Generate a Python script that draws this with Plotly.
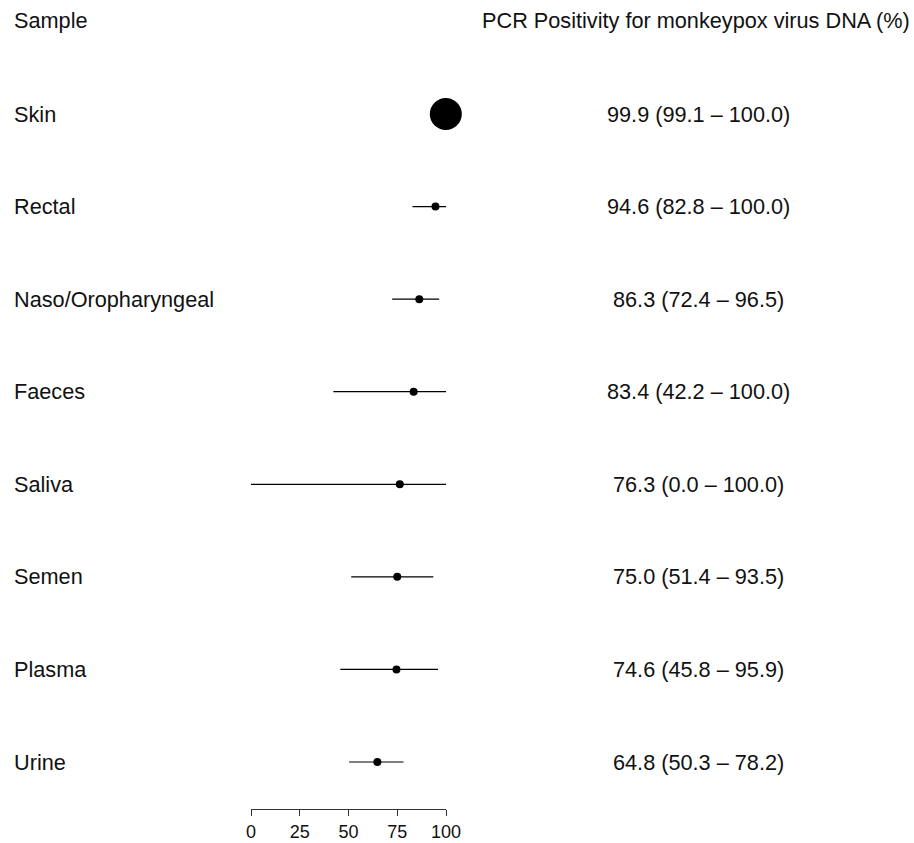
import plotly.graph_objects as go

samples = ["Skin", "Rectal", "Naso/Oropharyngeal", "Faeces", "Saliva", "Semen", "Plasma", "Urine"]
estimate = [99.9, 94.6, 86.3, 83.4, 76.3, 75.0, 74.6, 64.8]
lower = [99.1, 82.8, 72.4, 42.2, 0.0, 51.4, 45.8, 50.3]
upper = [100.0, 100.0, 96.5, 100.0, 100.0, 93.5, 95.9, 78.2]
marker_sizes = [32, 8, 8, 8, 8, 8, 8, 8]
tick_vals = [0, 25, 50, 75, 100]

W, H = 914, 843
n = len(samples)
ypos = [n - i for i in range(n)]  # Skin at top
row_px = (762 - 114) / 7.0
axis_px = 809
y_bottom = 1 - (axis_px - 762) / row_px
y_top = n + 114 / row_px

fig = go.Figure()
fig.add_trace(go.Scatter(
    x=estimate, y=ypos, mode="markers",
    marker=dict(color="#000000", size=marker_sizes, opacity=1,
                line=dict(width=0, color="#000000")),
    error_x=dict(type="data", symmetric=False,
                 array=[u - e for u, e in zip(upper, estimate)],
                 arrayminus=[e - l for e, l in zip(estimate, lower)],
                 color="#000000", thickness=1.2, width=0),
    cliponaxis=False,
    showlegend=False, hoverinfo="skip",
))

font = dict(family="Liberation Sans, Arial, sans-serif", size=21.7, color="#111111")
tick_font = dict(family="Liberation Sans, Arial, sans-serif", size=18, color="#111111")
ann = []
head_y = n + (114 - 20) / row_px
ann.append(dict(x=13 / W, xref="paper", y=head_y, yref="y",
                text="Sample", showarrow=False, xanchor="left", yanchor="middle",
                font=font, borderpad=0))
ann.append(dict(x=695.5 / W, xref="paper", y=head_y, yref="y",
                text="PCR Positivity for monkeypox virus DNA (%)", showarrow=False,
                xanchor="center", yanchor="middle", font=font, borderpad=0))
for s, e, l, u, y in zip(samples, estimate, lower, upper, ypos):
    ann.append(dict(x=13 / W, xref="paper", y=y, yref="y", text=s, showarrow=False,
                    xanchor="left", yanchor="middle", font=font, borderpad=0))
    ann.append(dict(x=698 / W, xref="paper", y=y, yref="y",
                    text=f"{e:.1f} ({l:.1f} \u2013 {u:.1f})", showarrow=False,
                    xanchor="center", yanchor="middle", font=font, borderpad=0))

fig.update_layout(
    width=W, height=H,
    margin=dict(l=0, r=0, t=0, b=H - axis_px, pad=0, autoexpand=False),
    paper_bgcolor="white", plot_bgcolor="white",
    annotations=ann,
    xaxis=dict(domain=[251 / W, 446 / W], range=[0, 100], tickvals=tick_vals,
               ticktext=[str(t) for t in tick_vals],
               showline=True, linecolor="#333333", linewidth=1,
               ticks="outside", ticklen=6, tickcolor="#333333", tickwidth=1,
               showgrid=False, zeroline=False, tickfont=tick_font, fixedrange=True,
               automargin=False),
    yaxis=dict(range=[y_bottom, y_top], visible=False, showgrid=False, zeroline=False,
               fixedrange=True),
)
fig.write_html("out.html", config={"displayModeBar": False, "staticPlot": True},
               post_script="document.body.style.margin='0';document.body.style.overflow='hidden';")
